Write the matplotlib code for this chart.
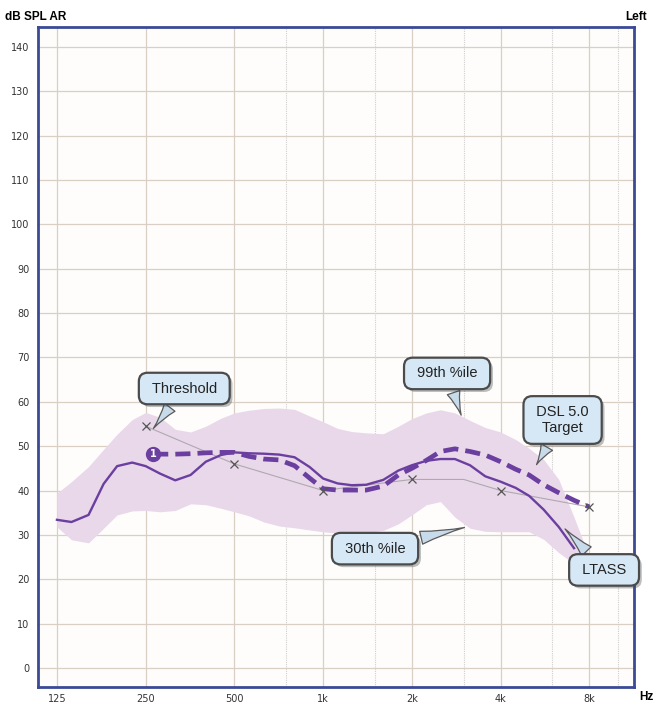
import matplotlib
matplotlib.use("Agg")
from matplotlib import pyplot as plt
from matplotlib import patheffects
from matplotlib.ticker import FixedLocator, NullFormatter

# --- data ---
freqs = [125, 140, 160, 180, 200, 225, 250, 280, 315, 355, 400, 450, 500, 560, 630,
         710, 800, 900, 1000, 1120, 1250, 1400, 1600, 1800, 2000, 2240, 2500, 2800,
         3150, 3550, 4000, 4500, 5000, 5600, 6300, 7100, 8000]

band_upper = [39.4, 42.0, 45.4, 49.3, 52.7, 56.0, 57.6, 56.5, 53.8, 53.2, 54.5, 56.3,
              57.5, 58.1, 58.5, 58.6, 58.3, 56.8, 55.5, 54.0, 53.3, 53.0, 52.8, 54.5,
              56.2, 57.5, 58.2, 57.5, 55.8, 54.2, 53.2, 51.5, 49.5, 47.0, 42.5, 34.0, 25.0]
band_lower = [31.8, 28.9, 28.2, 31.5, 34.5, 35.4, 35.5, 35.2, 35.5, 37.0, 36.8, 36.0,
              35.2, 34.3, 32.9, 32.0, 31.6, 31.1, 30.7, 30.4, 30.2, 30.5, 31.0, 32.5,
              34.5, 36.8, 37.5, 34.0, 31.5, 30.8, 30.7, 30.7, 30.7, 29.0, 26.0, 23.5, 22.0]

ltass_freqs = freqs[:-1]
ltass = [33.4, 32.9, 34.5, 41.5, 45.5, 46.3, 45.5, 43.8, 42.3, 43.5, 46.5, 48.0,
         48.6, 48.4, 48.3, 48.1, 47.5, 45.3, 42.7, 41.6, 41.2, 41.3, 42.4, 44.5,
         45.7, 46.7, 47.1, 47.1, 45.7, 43.2, 42.0, 40.6, 38.8, 35.7, 31.8, 27.0]

dsl_freqs = [265, 315, 355, 400, 450, 500, 560, 630, 710, 800, 900, 1000, 1120, 1250,
             1400, 1600, 1800, 2000, 2240, 2500, 2800, 3150, 3550, 4000, 4500, 5000,
             5600, 6300, 7100, 8000]
dsl = [48.2, 48.2, 48.3, 48.5, 48.6, 48.6, 47.7, 47.1, 46.9, 45.6, 42.8, 40.4, 40.1,
       40.1, 40.1, 41.0, 43.5, 45.0, 46.8, 48.8, 49.4, 48.8, 48.0, 46.5, 44.8, 43.5,
       41.3, 39.5, 37.8, 36.3]

thr_freqs = [250, 500, 1000, 2000, 3000, 4000, 8000]
thr = [54.5, 46.0, 40.0, 42.5, 42.5, 40.0, 36.3]
thr_mark_freqs = [250, 500, 1000, 2000, 4000, 8000]
thr_mark = [54.5, 46.0, 40.0, 42.5, 40.0, 36.3]

major_ticks = [125, 250, 500, 1000, 2000, 4000, 8000]
major_labels = ["125", "250", "500", "1k", "2k", "4k", "8k"]
minor_ticks = [750, 1500, 3000, 6000, 10000]
y_ticks = list(range(0, 150, 10))

# callouts: text, box centre, tail tip
callouts = [
    (" Threshold ", (338, 63.0), (262, 53.5)),
    (" 99th %ile ", (2634, 66.4), (2961, 56.4)),
    (" DSL 5.0 \n Target ", (6494, 55.9), (5240, 45.3)),
    (" 30th %ile ", (1500, 26.9), (3080, 31.8)),
    (" LTASS ", (8980, 22.1), (6520, 31.8)),
]

purple = "#6b3fa0"
frame = "#3c4a96"

fig = plt.figure(figsize=(6.53, 7.05), dpi=100)
fig.patch.set_facecolor("white")
ax = fig.add_axes([0.0582, 0.0255, 0.9128, 0.9362])
ax.set_facecolor("#fefdfb")
ax.set_xscale("log")
ax.set_xlim(107.8, 11350)
ax.set_ylim(-4.3, 144.5)

ax.xaxis.set_major_locator(FixedLocator(major_ticks))
ax.set_xticklabels(major_labels)
ax.xaxis.set_minor_locator(FixedLocator(minor_ticks))
ax.xaxis.set_minor_formatter(NullFormatter())
ax.set_yticks(y_ticks)
ax.tick_params(axis="both", which="both", length=0, labelsize=7, labelcolor="#333333")
ax.tick_params(axis="x", pad=5)
ax.tick_params(axis="y", pad=6)
ax.grid(True, which="major", color="#d9cfc4", lw=0.9)
ax.grid(True, which="minor", axis="x", color="#cfcfcf", lw=0.8, ls=(0, (1, 1)))
ax.set_axisbelow(True)
for side in ["left", "bottom", "right", "top"]:
    ax.spines[side].set_color(frame)
    ax.spines[side].set_linewidth(2.0)

ax.fill_between(freqs, band_lower, band_upper, color="#e9d8ea", lw=0, zorder=1)

ax.plot(thr_freqs, thr, color="#b0a8b0", lw=0.8, zorder=2)
ax.plot(thr_mark_freqs, thr_mark, ls="none", marker="x", ms=6, mew=0.9,
        color="#555555", zorder=5)

ax.plot(ltass_freqs, ltass, color=purple, lw=1.7, zorder=3,
        solid_joinstyle="round")
ax.plot(dsl_freqs, dsl, color=purple, lw=3.4, ls=(0, (3.2, 1.5)), zorder=4)

# start marker with "1"
ax.plot(dsl_freqs[:1], dsl[:1], ls="none", marker="o", ms=10, color=purple, zorder=6)
ax.text(dsl_freqs[0], dsl[0], "1", color="white", fontsize=7, fontweight="bold",
        ha="center", va="center", zorder=7)

for label, pos, tip in callouts:
    ann = ax.annotate(label, xy=tip, xytext=pos, textcoords="data",
                      ha="center", va="center", fontsize=10.5,
                      family=["Liberation Sans", "DejaVu Sans"], color="#222222",
                      linespacing=1.2, annotation_clip=False, zorder=10,
                      bbox=dict(boxstyle="round,pad=0.6,rounding_size=0.6",
                                fc="#d6e8f6", ec="#4b4b4b", lw=1.6),
                      arrowprops=dict(arrowstyle="wedge,tail_width=0.9,shrink_factor=0.35",
                                      fc="#c8dbeb", ec="#5a5a5a", lw=0.9))
    ann.get_bbox_patch().set_path_effects([
        patheffects.SimplePatchShadow(offset=(2, -2), alpha=0.35),
        patheffects.Normal()])

fig.text(5 / 653, 1 - 17 / 705, "dB SPL AR", fontsize=8.5, fontweight="bold",
         family=["Liberation Sans", "DejaVu Sans"], va="center", ha="left")
fig.text(647 / 653, 1 - 17 / 705, "Left", fontsize=8.5, fontweight="bold",
         family=["Liberation Sans", "DejaVu Sans"], va="center", ha="right")
fig.text(653 / 653, 1 - 697 / 705, "Hz", fontsize=8.5, fontweight="bold",
         family=["Liberation Sans", "DejaVu Sans"], va="center", ha="right")

fig.savefig("out.png", dpi=100)
